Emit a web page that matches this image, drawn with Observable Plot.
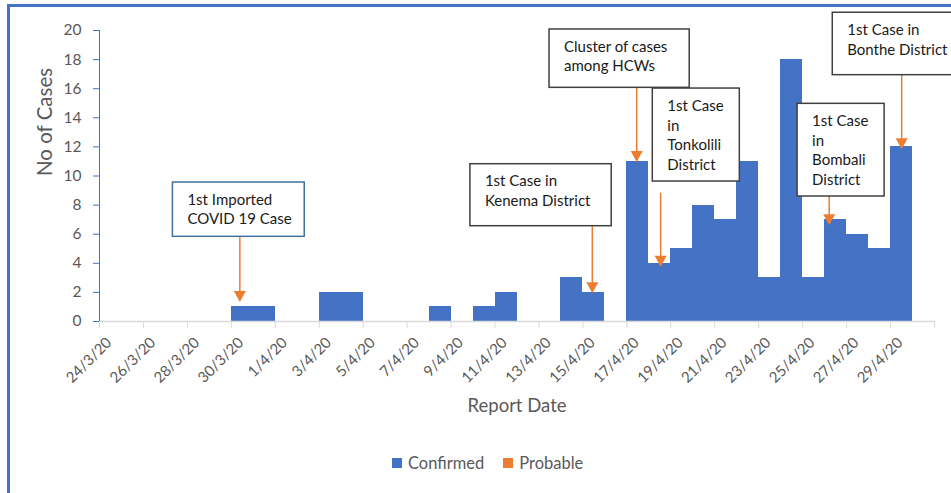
<!DOCTYPE html>
<html><head><meta charset="utf-8">
<script src="https://cdn.jsdelivr.net/npm/d3@7"></script>
<script src="https://cdn.jsdelivr.net/npm/@observablehq/plot@0.6"></script>
<style>
body{margin:0;background:#fff;font-family:Lato,"Open Sans",sans-serif;}
#wrap{position:relative;width:951px;height:493px;overflow:hidden;background:#fff;}
#frame{position:absolute;left:7px;top:4px;width:1000px;height:600px;border-left:3px solid #4472C4;border-top:3px solid #4472C4;box-sizing:border-box;}
#chart{position:absolute;left:0;top:0;}
#legend{position:absolute;top:453px;left:392px;display:flex;align-items:center;font-size:16.5px;color:#595959;white-space:nowrap;}
#legend .sw{display:inline-block;width:10px;height:10px;margin-right:6px;}
#legend .it{display:flex;align-items:center;margin-right:19px;}
</style>
</head><body>
<div id="wrap">
  <div id="frame"></div>
  <div id="chart"></div>
  <div id="legend"></div>
</div>
<script>
// ---- data ----
const dates = ["24/3/20","25/3/20","26/3/20","27/3/20","28/3/20","29/3/20","30/3/20","31/3/20",
  "1/4/20","2/4/20","3/4/20","4/4/20","5/4/20","6/4/20","7/4/20","8/4/20","9/4/20","10/4/20",
  "11/4/20","12/4/20","13/4/20","14/4/20","15/4/20","16/4/20","17/4/20","18/4/20","19/4/20","20/4/20",
  "21/4/20","22/4/20","23/4/20","24/4/20","25/4/20","26/4/20","27/4/20","28/4/20","29/4/20","30/4/20"];
const confirmed = [0,0,0,0,0,0,1,1,0,0,2,2,0,0,0,1,0,1,2,0,0,3,2,0,11,4,5,8,7,11,3,18,3,7,6,5,12,0];
const probable  = [0,0,0,0,0,0,0,0,0,0,0,0,0,0,0,0,0,0,0,0,0,0,0,0,0,0,0,0,0,0,0,0,0,0,0,0,0,0];
const seriesNames = ["Confirmed","Probable"];
const seriesColors = ["#4472C4","#ED7D31"];
const yTicks = [0,2,4,6,8,10,12,14,16,18,20];

// annotation boxes (in data units: x = day index, y = cases)
const notes = [
  {lines:["1st Imported","COVID 19 Case"], x1:3.34, x2:9.34, y1:9.55, y2:5.82, ax:6.41, ay1:5.82, tip:1.31, stroke:"#41719C"},
  {lines:["1st Case in","Kenema District"], x1:16.88, x2:23.31, y1:10.81, y2:6.55, ax:22.45, ay1:6.55, tip:1.90, stroke:"#404040"},
  {lines:["Cluster of cases","among HCWs"], x1:20.48, x2:26.86, y1:20.07, y2:16.06, ax:24.47, ay1:16.06, tip:10.93, stroke:"#404040"},
  {lines:["1st Case","in","Tonkolili","District"], x1:25.18, x2:29.14, y1:16.01, y2:9.62, ax:25.56, ay1:8.82, tip:3.73, stroke:"#404040"},
  {lines:["1st Case","in","Bombali","District"], x1:31.77, x2:35.73, y1:14.96, y2:8.59, ax:33.23, ay1:8.59, tip:6.58, stroke:"#404040"},
  {lines:["1st Case in","Bonthe District"], x1:33.37, x2:43.6, y1:21.22, y2:16.93, ax:36.53, ay1:16.93, tip:11.80, stroke:"#404040"}
];

const rows = [];
dates.forEach((d,i)=>{
  rows.push({i, date:d, series:seriesNames[0], value:confirmed[i]});
  rows.push({i, date:d, series:seriesNames[1], value:probable[i]});
});
const tickIdx = d3.range(0, dates.length + 1, 2);
const labelRows = dates.map((d,i)=>({i, d})).filter(r => r.i % 2 === 0);

const W = 951, H = 440;

function annotations(index, scales) {
  const g = d3.create("svg:g");
  const x = scales.x, y = scales.y;
  for (const n of notes) {
    const ax = x(n.ax), ya = y(n.ay1), yt = y(n.tip);
    g.append("line").attr("x1", ax).attr("x2", ax).attr("y1", ya).attr("y2", yt - 8)
      .attr("stroke", "#ED7D31").attr("stroke-width", 1.5);
    g.append("path").attr("d", `M${ax-6},${yt-11}L${ax+6},${yt-11}L${ax},${yt}Z`).attr("fill", "#ED7D31");
  }
  for (const n of notes) {
    const bx = x(n.x1), by = y(n.y1), bw = x(n.x2) - x(n.x1), bh = y(n.y2) - y(n.y1);
    g.append("rect").attr("x", bx).attr("y", by).attr("width", bw).attr("height", bh)
      .attr("fill", "white").attr("stroke", n.stroke).attr("stroke-width", 1.5);
    const t = g.append("text").attr("font-size", 15).attr("fill", "#1a1a1a")
      .attr("font-family", "Lato").attr("text-anchor", "start");
    n.lines.forEach((l, k) => {
      t.append("tspan").attr("x", bx + 15).attr("y", by + 17.5 + k * 19.7).attr("dy", "0.35em").text(l);
    });
  }
  return g.node();
}

const chart = Plot.plot({
  width: W, height: H,
  marginLeft: 99, marginRight: 17, marginTop: 30, marginBottom: H - 321,
  x: {domain: [0, dates.length], axis: null},
  y: {domain: [0, 20], axis: null},
  color: {domain: seriesNames, range: seriesColors},
  style: {fontFamily: "Lato", overflow: "visible", background: "transparent"},
  marks: [
    Plot.rectY(rows.filter(r => r.value > 0), {x1: "i", x2: d => d.i + 1, y: "value", fill: "series",
      shapeRendering: "crispEdges"}),
    Plot.ruleY([0], {stroke: "#D9D9D9", strokeWidth: 1.5}),
    Plot.axisX(tickIdx, {tickSize: 7, stroke: "#D9D9D9", tickFormat: () => "", label: null}),
    Plot.ruleX([0], {stroke: "#4472C4", strokeWidth: 1}),
    Plot.axisY(yTicks, {tickSize: 6, tickPadding: 12, stroke: "#4472C4", fill: "#595959", fontSize: 15.5, label: null}),
    Plot.text(labelRows, {x: r => r.i + 0.5, frameAnchor: "bottom", text: "d", rotate: -45, textAnchor: "end",
      dy: 22, dx: 2, fontSize: 15, fill: "#595959"}),
    Plot.text(["Report Date"], {frameAnchor: "bottom", dy: 90, fontSize: 18.5, fill: "#595959"}),
    Plot.text(["No of Cases"], {frameAnchor: "left", rotate: -90, dx: -54, fontSize: 20.5, fill: "#595959"}),
    annotations
  ]
});
document.getElementById("chart").appendChild(chart);

const lg = d3.select("#legend");
seriesNames.forEach((s, k) => {
  const it = lg.append("div").attr("class", "it");
  it.append("span").attr("class", "sw").style("background", seriesColors[k]);
  it.append("span").text(s);
});
</script>
</body></html>
